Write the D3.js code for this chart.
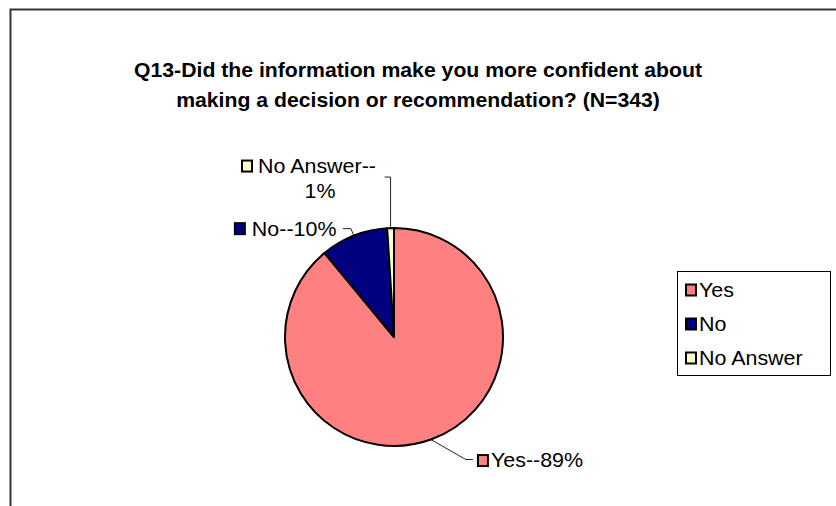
<!DOCTYPE html>
<html>
<head>
<meta charset="utf-8">
<script src="https://cdn.jsdelivr.net/npm/d3@7"></script>
<style>
  html, body { margin: 0; padding: 0; background: #fff; }
  svg { display: block; font-family: Arial, "Liberation Sans", sans-serif; }
</style>
</head>
<body>
<svg id="chart" width="836" height="506"></svg>
<script>
// Survey responses (percent of N=343)
const categories = ["Yes", "No", "No Answer"];
const values = [89, 10, 1];
const colors = ["#FF8080", "#000080", "#FFFFCC"];
const titleLines = [
  "Q13-Did the information make you more confident about",
  "making a decision or recommendation? (N=343)"
];

const svg = d3.select("#chart");
const W = 836, H = 506;

// Chart frame (top and left edges only are visible)
svg.append("path")
  .attr("d", `M10.5,${H} L10.5,9.5 L${W},9.5`)
  .attr("fill", "none").attr("stroke", "#333").attr("stroke-width", 2);

// Text is drawn slightly wider than tall
const sx = 1.1;
function wideText(g, x, y, str, size, weight, anchor) {
  return g.append("text")
    .attr("transform", `translate(${x},${y}) scale(${sx},1)`)
    .attr("text-anchor", anchor || "start")
    .attr("font-size", size)
    .attr("font-weight", weight || "normal")
    .attr("fill", "#000")
    .text(str);
}

// Title
titleLines.forEach((t, i) => wideText(svg, 418, 77 + i * 30, t, 19.3, "bold", "middle"));

// Pie
const cx = 394, cy = 337, R = 109;
const pie = d3.pie().sort(null).value(d => d)(values);
const arc = d3.arc().innerRadius(0).outerRadius(R);
const gPie = svg.append("g").attr("transform", `translate(${cx},${cy})`);
gPie.selectAll("path").data(pie).join("path")
  .attr("d", arc)
  .attr("fill", (d, i) => colors[i])
  .attr("stroke", "#000").attr("stroke-width", 2).attr("stroke-linejoin", "round");

// Point on the rim at a slice's mid angle
function rim(d, r) {
  const a = (d.startAngle + d.endAngle) / 2;
  return [cx + r * Math.sin(a), cy - r * Math.cos(a)];
}

const fs = 19.5;
const labelsG = svg.append("g");
function swatch(x, yc, i) {
  labelsG.append("rect")
    .attr("x", x).attr("y", yc - 5.5).attr("width", 10).attr("height", 11)
    .attr("fill", colors[i]).attr("stroke", "#000").attr("stroke-width", 2);
}
function leader(pts) {
  labelsG.append("path")
    .attr("d", d3.line()(pts))
    .attr("fill", "none").attr("stroke", "#222").attr("stroke-width", 1);
}

// Yes label (below right)
{
  const d = pie[0], p = rim(d, R);
  const ex = p[0] + 35, ey = p[1] + 20;
  leader([p, [ex, ey], [ex + 7, ey]]);
  swatch(ex + 12, ey + 1, 0);
  wideText(labelsG, ex + 25, ey + 7, `${categories[0]}--${values[0]}%`, fs);
}
// No label (upper left)
{
  const d = pie[1], p = rim(d, R);
  const ex = p[0] - 3, ey = p[1] - 7;
  leader([p, [ex, ey], [ex - 8, ey]]);
  swatch(ex - 116, ey, 1);
  wideText(labelsG, ex - 99, ey + 7, `${categories[1]}--${values[1]}%`, fs);
}
// No Answer label (above, two lines)
{
  const d = pie[2], p = rim(d, R);
  const ex = p[0], ey = p[1] - 51;
  leader([p, [ex, ey], [ex - 6, ey]]);
  swatch(242, ey - 11, 2);
  wideText(labelsG, 258, ey - 4, `${categories[2]}--`, fs);
  wideText(labelsG, 320, ey + 21, `${values[2]}%`, fs, "normal", "middle");
}

// Legend
const lg = svg.append("g");
lg.append("rect")
  .attr("x", 677.5).attr("y", 271.5).attr("width", 153).attr("height", 104)
  .attr("fill", "#fff").attr("stroke", "#000").attr("stroke-width", 1);
categories.forEach((c, i) => {
  const yc = 290 + i * 34;
  lg.append("rect")
    .attr("x", 686).attr("y", yc - 5.5).attr("width", 10).attr("height", 11)
    .attr("fill", colors[i]).attr("stroke", "#000").attr("stroke-width", 2);
  wideText(lg, 699, yc + 7, c, fs);
});
</script>
</body>
</html>
